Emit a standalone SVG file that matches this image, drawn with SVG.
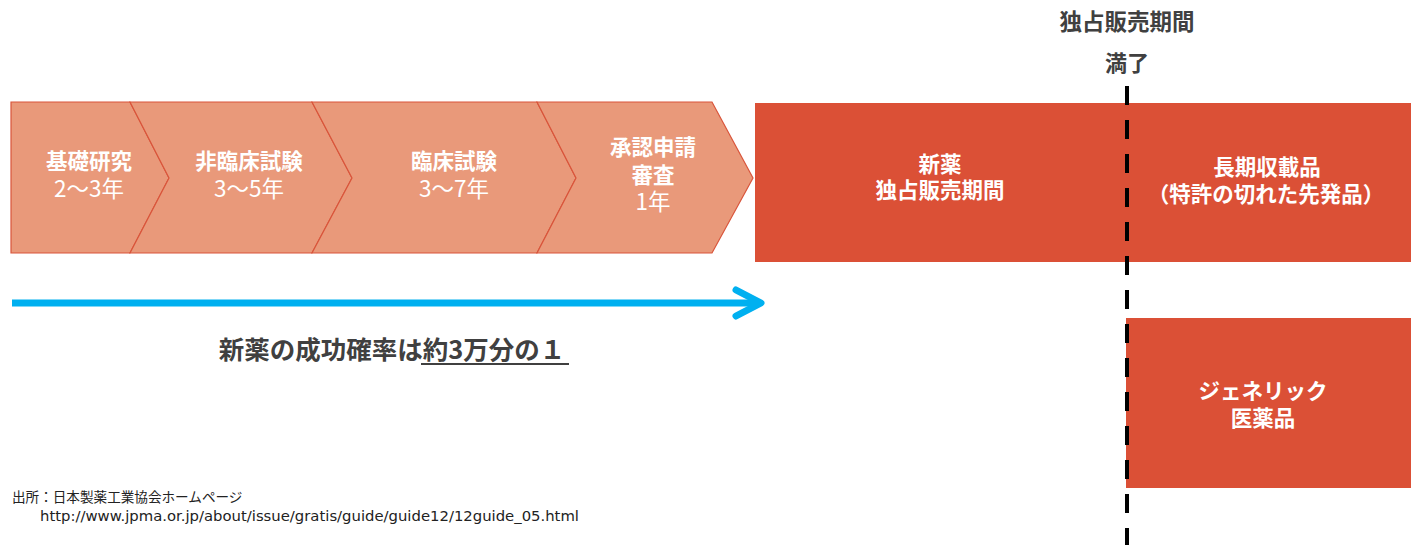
<svg xmlns="http://www.w3.org/2000/svg" width="1417" height="545" viewBox="0 0 1417 545">
<defs>
<style>
.chev{fill:#E9997A;stroke:#D9553B;stroke-width:1.2}
.box{fill:#DB5036}
.wb{fill:#FFFFFF;font-family:"Noto Sans CJK JP","Noto Sans",sans-serif;font-weight:bold;font-size:21.5px;text-anchor:middle}
.wr{fill:#FFFFFF;font-family:"Noto Sans CJK JP","Noto Sans",sans-serif;font-size:22.5px;text-anchor:middle}
.db{fill:#404040;font-family:"Noto Sans CJK JP","Noto Sans",sans-serif;font-weight:bold;text-anchor:middle}
.src{fill:#222222;font-family:"Noto Sans CJK JP","DejaVu Sans",sans-serif;font-size:13.6px}
.url{fill:#222222;font-family:"DejaVu Sans","Liberation Sans",sans-serif;font-size:14.5px}
</style>
</defs>
<rect width="1417" height="545" fill="#FFFFFF"/>
<g id="chev1"><polygon class="chev" points="11,102 130,102 169,178 130,253 11,253"/>
<text class="wb" x="89" y="169">基礎研究</text><text class="wr" x="89" y="197">2〜3年</text></g>
<g id="chev2"><polygon class="chev" points="130,102 312,102 352,178 312,253 130,253 169,178"/>
<text class="wb" x="249" y="169">非臨床試験</text><text class="wr" x="249" y="197">3〜5年</text></g>
<g id="chev3"><polygon class="chev" points="312,102 537,102 576,178 537,253 312,253 352,178"/>
<text class="wb" x="454" y="169">臨床試験</text><text class="wr" x="454" y="197">3〜7年</text></g>
<g id="chev4"><polygon class="chev" points="537,102 712,102 753,178 712,253 537,253 576,178"/>
<text class="wb" x="653" y="155">承認申請</text><text class="wb" x="653" y="183">審査</text><text class="wr" x="653" y="210">1年</text></g>
<g id="exclusive"><rect class="box" x="755" y="103" width="373" height="159"/>
<text class="wb" x="940" y="172">新薬</text><text class="wb" x="940" y="198">独占販売期間</text></g>
<g id="longlisted"><rect class="box" x="1127" y="103" width="284" height="159"/>
<text class="wb" x="1267" y="175">長期収載品</text><text class="wb" x="1266" y="202">（特許の切れた先発品）</text></g>
<g id="generic"><rect class="box" x="1126" y="318" width="285" height="170"/>
<text class="wb" x="1263" y="399">ジェネリック</text><text class="wb" x="1263" y="426">医薬品</text></g>
<g id="labels">
<text class="db" x="1127" y="30" font-size="22.5">独占販売期間</text>
<text class="db" x="1127" y="71" font-size="22">満了</text>
<text class="db" x="392" y="359" font-size="25.5">新薬の成功確率は約3万分の１</text>
<line x1="421" y1="364" x2="569" y2="364" stroke="#404040" stroke-width="2"/>
<text class="src" x="12" y="502">出所：日本製薬工業協会ホームページ</text>
<text class="url" x="40" y="521" textLength="539" lengthAdjust="spacingAndGlyphs">http://www.jpma.or.jp/about/issue/gratis/guide/guide12/12guide_05.html</text>
</g>
<g id="connectors">
<line x1="12" y1="303" x2="760" y2="303" stroke="#00B0F0" stroke-width="7"/>
<polyline points="736,290 761,303 736,316" fill="none" stroke="#00B0F0" stroke-width="7" stroke-linecap="round" stroke-linejoin="round"/>
<line x1="1127" y1="86" x2="1127" y2="545" stroke="#000000" stroke-width="4" stroke-dasharray="19 15"/>
</g>
</svg>
